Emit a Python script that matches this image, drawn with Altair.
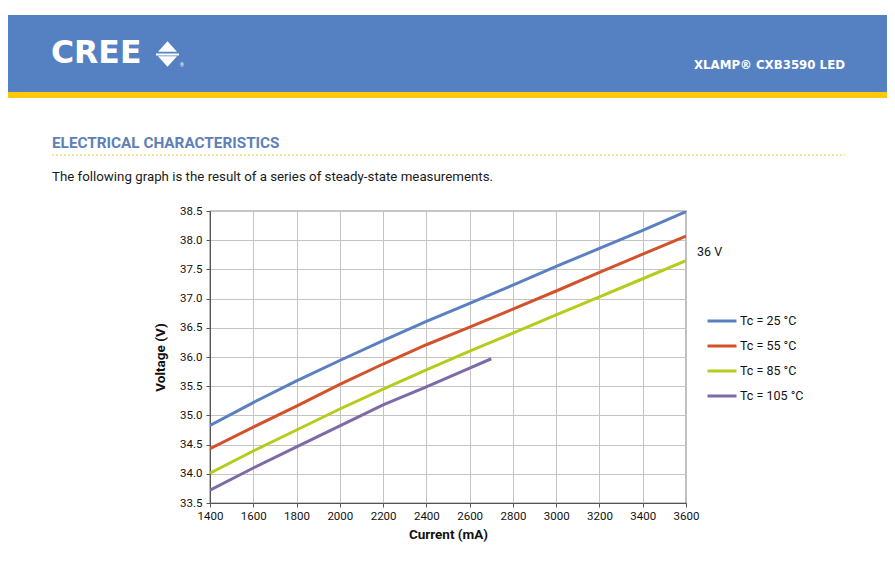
import altair as alt
import pandas as pd

# ---- data ----
currents = [1400, 1600, 1800, 2000, 2200, 2400, 2600, 2800, 3000, 3200, 3400, 3600]
v_25 = [34.83, 35.22, 35.59, 35.94, 36.28, 36.61, 36.92, 37.23, 37.55, 37.86, 38.17, 38.49]
v_55 = [34.43, 34.80, 35.16, 35.53, 35.88, 36.21, 36.51, 36.82, 37.13, 37.45, 37.76, 38.07]
v_85 = [34.01, 34.39, 34.75, 35.11, 35.45, 35.78, 36.10, 36.41, 36.72, 37.03, 37.34, 37.65]
currents_105 = [1400, 1600, 1800, 2000, 2200, 2400, 2600, 2700]
v_105 = [33.72, 34.10, 34.46, 34.82, 35.18, 35.49, 35.81, 35.97]

series_names = ["Tc = 25 °C", "Tc = 55 °C", "Tc = 85 °C", "Tc = 105 °C"]
series_colors = ["#5B80C0", "#D4522B", "#B6CC1A", "#7C6BA6"]
x_ticks = [1400, 1600, 1800, 2000, 2200, 2400, 2600, 2800, 3000, 3200, 3400, 3600]
y_ticks = [33.5, 34.0, 34.5, 35.0, 35.5, 36.0, 36.5, 37.0, 37.5, 38.0, 38.5]

rows = []
for name, xs, ys in [(series_names[0], currents, v_25),
                     (series_names[1], currents, v_55),
                     (series_names[2], currents, v_85),
                     (series_names[3], currents_105, v_105)]:
    for c, v in zip(xs, ys):
        rows.append({"current": c, "voltage": v, "series": name})
df = pd.DataFrame(rows)

FONT = "Roboto"
one = alt.Data(values=[{}])

lines = alt.Chart(df).mark_line(strokeWidth=3, clip=True).encode(
    x=alt.X("current:Q", title="Current (mA)",
            scale=alt.Scale(domain=[1400, 3600], nice=False, zero=False),
            axis=alt.Axis(values=x_ticks, format="d", labelFontSize=11.5, labelColor="#111",
                          titleFontSize=13.5, titleFontWeight="bold", titleColor="#111",
                          titlePadding=6, labelPadding=3, tickSize=4, tickColor="#555",
                          domainColor="#555", gridColor="#C4C4C4", labelFont=FONT,
                          titleFont=FONT, labelFlush=False)),
    y=alt.Y("voltage:Q", title="Voltage (V)",
            scale=alt.Scale(domain=[33.5, 38.5], nice=False, zero=False),
            axis=alt.Axis(values=y_ticks, format=".1f", labelFontSize=11.5, labelColor="#111",
                          titleFontSize=13.5, titleFontWeight="bold", titleColor="#111",
                          titlePadding=12, labelPadding=4, tickSize=4, tickColor="#555",
                          domainColor="#555", gridColor="#C4C4C4", labelFont=FONT,
                          titleFont=FONT, labelFlush=False)),
    color=alt.Color("series:N", sort=series_names,
                    scale=alt.Scale(domain=series_names, range=series_colors),
                    legend=alt.Legend(orient="none", legendX=496, legendY=104, title=None,
                                      symbolType="stroke", symbolSize=841,
                                      symbolStrokeWidth=3, labelFontSize=12.5,
                                      labelFont=FONT, labelColor="#111", labelOffset=2,
                                      clipHeight=12, rowPadding=12, padding=0)),
)

def txt(s, x, y, size, color="#111", weight="normal", align="left", font=FONT):
    return alt.Chart(one).mark_text(align=align, baseline="alphabetic", fontSize=size,
                                    fontWeight=weight, color=color, font=font).encode(
        x=alt.value(x), y=alt.value(y), text=alt.value(s))

def rect(x1, x2, y1, y2, color):
    return alt.Chart(one).mark_rect(color=color).encode(
        x=alt.value(x1), x2=alt.value(x2), y=alt.value(y1), y2=alt.value(y2))

banner = rect(-210, 690, -196, -119, "#5581C2")
stripe = rect(-210, 690, -119, -113, "#FDC80C")
cree = txt("CREE", -159, -148, 31.5, color="white", weight="bold", font="DejaVu Sans")
tri_up = alt.Chart(one).mark_point(shape="M-1,0.55L1,0.55L0,-0.55Z", filled=True,
                                   color="white", size=361, opacity=1).encode(
    x=alt.value(-42.5), y=alt.value(-164.5))
tri_dn = alt.Chart(one).mark_point(shape="M-1,-0.55L1,-0.55L0,0.55Z", filled=True,
                                   color="white", size=361, opacity=1).encode(
    x=alt.value(-42.5), y=alt.value(-149.5))
bar = rect(-54, -31, -157.5, -155.5, "white")
reg = txt("®", -30, -144, 5, color="white")
xlamp = txt("XLAMP® CXB3590 LED", 635, -142, 11.8, color="white", weight="bold",
            align="right", font="DejaVu Sans")
heading = txt("ELECTRICAL CHARACTERISTICS", -158, -63, 15.3, color="#5E80B8", weight="bold")
dots = alt.Chart(one).mark_rule(color="#F0C832", strokeDash=[2, 2], strokeWidth=1).encode(
    x=alt.value(-158), x2=alt.value(635), y=alt.value(-56))
body = txt("The following graph is the result of a series of steady-state measurements.",
           -158, -30, 13.3, color="#1a1a1a")
label36 = txt("36 V", 487, 45, 12.5, color="#111")

chart = alt.layer(
    banner, stripe, cree, tri_up, tri_dn, bar, reg, xlamp, heading, dots, body,
    lines, label36
).properties(
    width=476, height=292,
    autosize=alt.AutoSizeParams(type="none"),
    padding={"left": 202, "top": 203, "right": 201, "bottom": 55},
    background="white",
).configure_view(stroke="#222", strokeWidth=1.2)

chart.save("out.html", embed_options={"renderer": "svg", "actions": False})
